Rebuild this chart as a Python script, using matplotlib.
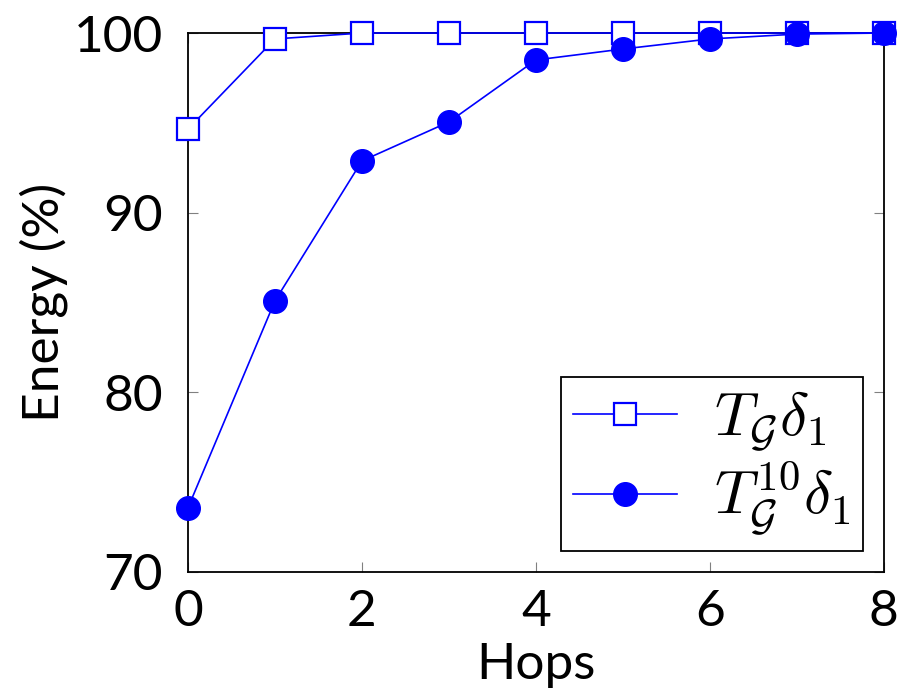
import matplotlib
matplotlib.use("Agg")
import matplotlib.pyplot as plt

hops = [0, 1, 2, 3, 4, 5, 6, 7, 8]
energy_t = [94.65, 99.67, 100.0, 100.0, 100.0, 100.0, 100.0, 100.0, 100.0]
energy_t10 = [73.57, 85.09, 92.88, 95.05, 98.5, 99.11, 99.67, 99.94, 100.0]

x_ticks = [0, 2, 4, 6, 8]
y_ticks = [70, 80, 90, 100]

plt.rcParams['font.family'] = ['Lato', 'DejaVu Sans']
plt.rcParams['mathtext.fontset'] = 'cm'

fig = plt.figure(figsize=(9.05, 6.95), dpi=100)
ax = fig.add_axes([0.2077, 0.177, 0.769, 0.7755])

blue = '#0000ff'
ax.plot(hops, energy_t, color=blue, lw=1.2, marker='s', ms=16,
        mfc='white', mec=blue, mew=1.6, label=r'$T_{\mathcal{G}}\delta_1$', clip_on=False, zorder=3)
ax.plot(hops, energy_t10, color=blue, lw=1.2, marker='o', ms=17,
        mfc=blue, mec=blue, label=r'$T_{\mathcal{G}}^{10}\delta_1$', clip_on=False, zorder=4)

ax.set_xlim(0, 8)
ax.set_ylim(70, 100)
ax.set_xticks(x_ticks)
ax.set_yticks(y_ticks)
ax.tick_params(direction='in', length=7, width=0.8, color='#808080',
               top=True, right=True, labelsize=37)
ax.tick_params(axis='x', pad=12)
ax.tick_params(axis='y', pad=18)
for s in ax.spines.values():
    s.set_linewidth(1.3)

ax.set_xlabel('Hops', fontsize=37, labelpad=5)
ax.set_ylabel('Energy (%)', fontsize=37, labelpad=4)

leg = ax.legend(loc='lower right', fontsize=44, frameon=True, fancybox=False,
                edgecolor='black', framealpha=1, borderpad=0.2, handlelength=1.7,
                handletextpad=0.6, labelspacing=0.1, borderaxespad=0.35)
leg.get_frame().set_linewidth(1.3)

fig.savefig('out.png', dpi=100)
